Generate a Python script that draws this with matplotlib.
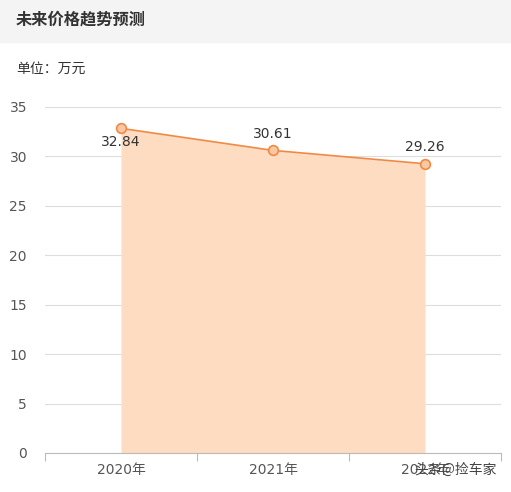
import numpy as np
from matplotlib import pyplot as plt
from matplotlib.patches import Rectangle

plt.rcParams['font.family'] = ['DejaVu Sans', 'Noto Sans CJK SC']

years = ['2020年', '2021年', '2022年']
prices = [32.84, 30.61, 29.26]
label_offsets = [-10, 12, 12]

W, H = 511, 492
fig = plt.figure(figsize=(W / 100, H / 100), dpi=100)

# header band
fig.patches.append(Rectangle((0, 1 - 42 / H), 1, 42 / H, transform=fig.transFigure,
                             color='#f4f4f4', zorder=0))
fig.text(16 / W, 1 - 20 / H, '未来价格趋势预测', fontsize=11.7, fontweight='bold',
         color='#333333', va='center', family=['Noto Sans CJK SC'])
fig.text(16 / W, 1 - 69 / H, '单位：万元', fontsize=10, color='#333333', va='center',
         family=['Noto Sans CJK SC'])

ax = fig.add_axes([45 / W, (H - 453) / H, 456 / W, 346 / H])
x = np.arange(len(years))
ax.fill_between(x, prices, 0, color='#fddcc2', lw=0, zorder=1)
ax.plot(x, prices, color='#ef8a45', lw=1.2, marker='o', ms=7,
        mfc='#f9c7a2', mec='#ef8a45', mew=1.2, zorder=3)
for xi, p, off in zip(x, prices, label_offsets):
    ax.annotate(f'{p:.2f}', (xi, p), xytext=(0, off), textcoords='offset points',
                ha='center', va='center', fontsize=10, color='#333333')

ax.set_xlim(-0.5, 2.5)
ax.set_ylim(0, 35)
ax.set_yticks(np.arange(0, 36, 5))
ax.yaxis.grid(True, color='#dddddd', lw=0.8, zorder=0)
ax.set_axisbelow(True)
ax.tick_params(axis='y', length=0, pad=13, labelsize=10, labelcolor='#555555')

ax.set_xticks([-0.5, 0.5, 1.5, 2.5])
ax.set_xticklabels([])
ax.set_xticks(x, minor=True)
ax.set_xticklabels(years, minor=True)
ax.tick_params(axis='x', which='major', length=6, color='#bbbbbb', direction='out')
ax.tick_params(axis='x', which='minor', length=0, pad=7, labelsize=10, labelcolor='#555555')

for s in ['top', 'right', 'left']:
    ax.spines[s].set_visible(False)
ax.spines['bottom'].set_color('#bbbbbb')

# watermark
fig.text(497 / W, 1 - 470 / H, '头条@捡车家', fontsize=10, color='#444444',
         ha='right', va='center', family=['Noto Sans CJK SC'])

plt.savefig('out.png', dpi=100)
